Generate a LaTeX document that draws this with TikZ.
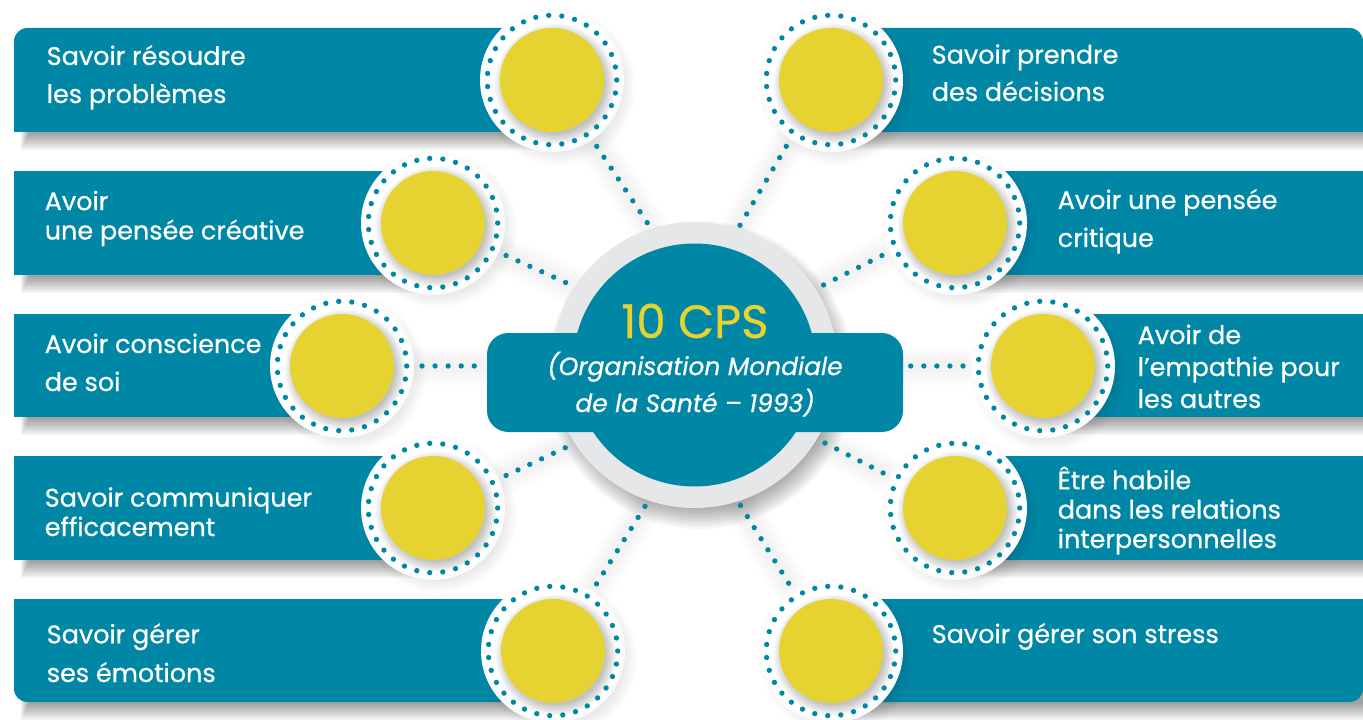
\documentclass[tikz,border=0pt]{standalone}
\usepackage{fontspec}
\setmainfont[FakeBold=0.6]{Poppins}
\usetikzlibrary{calc}
\definecolor{teal}{HTML}{0087A6}
\definecolor{sun}{HTML}{E6D332}
\definecolor{halo}{HTML}{E6E7E9}
\pgfdeclarelayer{under}
\pgfsetlayers{under,main}
\tikzset{
  barfill/.style={fill=teal},
  spot/.style={circle,fill=sun,inner sep=0pt,minimum size=78pt,outer sep=21pt},
  dotring/.style={draw=teal,line width=4pt,line cap=round,dash pattern=on 0pt off 9.836pt},
  link/.style={draw=teal,line width=4pt,line cap=round,dash pattern=on 0pt off 9.8pt},
  linkglow/.style={draw=black,opacity=0.010,line cap=round},
  label/.style={text=white,align=left,anchor=base west,inner sep=0pt,
    font=\fontsize{19.1}{#1}\selectfont},
  label/.default=28
}
% name, cx, cy
\newcommand\ringspot[3]{%
  \foreach \r in {62,64,...,78}{\fill[black,opacity=0.013] (#2+6,#3+7) circle (\r);}
  \fill[white!85!halo] (#2,#3) circle (72);
  \fill[white] (#2,#3) circle (69);
  \foreach \r in {50,52,...,60}{\fill[black,opacity=0.045] (#2+3,#3+4) circle (\r);}
  \draw[dotring] (#2,#3) circle (64.7);
  \node[spot] (#1) at (#2,#3) {};
}
% bar shadow: x0 x1 bottom
\newcommand\barshadow[3]{%
  \foreach \i in {1,...,9}{\fill[black,opacity=0.048] ({#1+16-\i},#3-30) rectangle (#2,{#3+2*\i});}
}
\newcommand\linkpair[2]{%
  \begin{pgfonlayer}{under}
    \foreach \w in {10,16,22,28}{\path[linkglow,line width=\w pt] #1 -- #2;}
  \end{pgfonlayer}
  \path[link] #1 -- #2;
}
\begin{document}
\begin{tikzpicture}[x=0.75pt,y=-0.75pt]
\useasboundingbox (0,0) rectangle (1363,720);
\begin{pgfonlayer}{under}
\fill[white] (0,0) rectangle (1363,720);
\end{pgfonlayer}
% left bars
\barshadow{14}{552}{132}
\path[barfill] (14,132) [rounded corners=10pt] -- (14,28) [sharp corners] -- (552,28) -- (552,132) -- cycle;
\barshadow{14}{433}{275}
\fill[teal] (14,171) rectangle (433,275);
\barshadow{14}{342}{417}
\fill[teal] (14,314) rectangle (342,417);
\barshadow{14}{433}{560}
\fill[teal] (14,456) rectangle (433,560);
\barshadow{14}{553}{702}
\path[barfill] (553,702) -- (553,599) -- (14,599) [rounded corners=10pt] -- (14,702) [sharp corners] -- cycle;
% right bars
\barshadow{831}{1363}{132}
\path[barfill] (831,132) -- (831,28) [rounded corners=10pt] -- (1363,28) [sharp corners] -- (1363,132) -- cycle;
\barshadow{955}{1363}{275}
\fill[teal] (955,171) rectangle (1363,275);
\barshadow{1043}{1363}{417}
\fill[teal] (1043,314) rectangle (1363,417);
\barshadow{955}{1363}{560}
\fill[teal] (955,456) rectangle (1363,560);
\barshadow{831}{1363}{702}
\path[barfill] (831,702) -- (831,599) -- (1363,599) [rounded corners=10pt] -- (1363,702) [sharp corners] -- cycle;
% spots
\ringspot{la}{552}{80}
\ringspot{lb}{433}{223}
\ringspot{lc}{342}{366}
\ringspot{ld}{433}{508}
\ringspot{le}{553}{651}
\ringspot{ra}{831}{80}
\ringspot{rb}{955}{223}
\ringspot{rc}{1043}{366}
\ringspot{rd}{955}{508}
\ringspot{re}{831}{651}
% hub
\foreach \r in {134,136,...,154}{\fill[black,opacity=0.03] (700,375) circle (\r);}
\fill[halo] (694.5,365) circle (143);
\node[circle,fill=teal,inner sep=0pt,minimum size=182.25pt,outer sep=18.75pt] (hub) at (694.5,365) {};
\node[rectangle,rounded corners=16pt,fill=teal,inner sep=0pt,minimum width=312pt,minimum height=74.25pt] (banner) at (695,382.5) {};
% links
\linkpair{(la.-56.7)}{(hub.108.5)}
\linkpair{(lb.-24)}{(hub.147.5)}
\linkpair{(lc.0)}{(lc.0 -| banner.west)}
\linkpair{(ld.24.3)}{(hub.-147.5)}
\linkpair{(le.57.9)}{(hub.-109.3)}
\linkpair{(ra.236.7)}{(hub.72.7)}
\linkpair{(rb.204)}{(hub.32.5)}
\linkpair{(rc.180)}{(rc.180 -| banner.east)}
\linkpair{(rd.154)}{(hub.-31.8)}
\linkpair{(re.122.5)}{(hub.-72.6)}
% labels
\node[label=28.5] (ta) at (46.5,103) {Savoir résoudre\\les problèmes};
\node[label=22] (tb) at (44.5,239.5) {Avoir\\une pensée créative};
\node[label=28.5] (tc) at (44.5,391) {Avoir conscience\\de soi};
\node[label=22] (td) at (44.5,536) {Savoir communiquer\\efficacement};
\node[label=29] (te) at (46.5,682) {Savoir gérer\\ses émotions};
\node[label=28] (tf) at (931.5,101) {Savoir prendre\\des décisions};
\node[label=28.5] (tg) at (1057.5,247) {Avoir une pensée\\critique};
\node[label=24] (th) at (1137.5,408) {Avoir de\\l’empathie pour\\les autres};
\node[label=22] (ti) at (1057.5,548) {Être habile\\dans les relations\\interpersonnelles};
\node[label=22] (tj) at (931.5,643) {Savoir gérer son stress};
\node[text=sun,anchor=base,inner sep=0pt,font=\fontsize{35}{40}\selectfont] (tk) at (695,338) {10 CPS};
\node[text=white,align=center,anchor=base,inner sep=0pt,font=\fontsize{18.7}{27.7}\selectfont\itshape] (tl) at (695,412) {(Organisation Mondiale\\de la Santé – 1993)};
\end{tikzpicture}
\end{document}
